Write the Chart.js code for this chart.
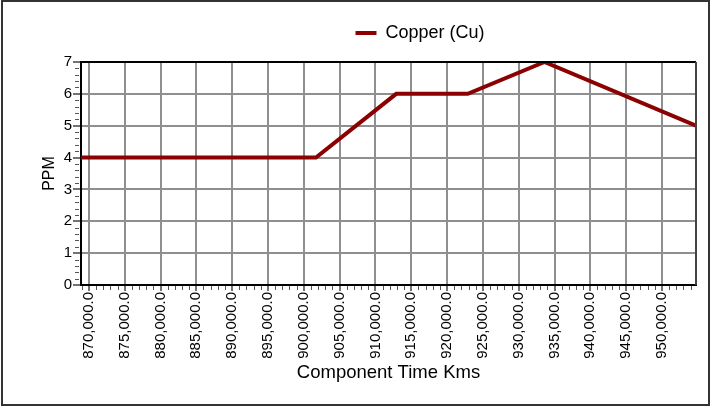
<!DOCTYPE html>
<html>
<head>
<meta charset="utf-8">
<script src="https://cdn.jsdelivr.net/npm/chart.js@4/dist/chart.umd.min.js"></script>
<style>
  html, body { margin: 0; padding: 0; background: #fff; }
  #wrap { width: 711px; height: 408px; }
</style>
</head>
<body>
<div id="wrap"><canvas id="ppmChart" width="711" height="408"></canvas></div>
<script>
// data
const seriesName = 'Copper (Cu)';
const kms = [868900, 901700, 912900, 922900, 933600, 954750];
const ppm = [4, 4, 6, 6, 7, 5];
const xTicks = [870000, 875000, 880000, 885000, 890000, 895000, 900000, 905000, 910000,
                915000, 920000, 925000, 930000, 935000, 940000, 945000, 950000];
const yTicks = [0, 1, 2, 3, 4, 5, 6, 7];

const lineColor = '#8b0000';
const gridColor = '#8f8f8f';
const fontFamily = '"Liberation Sans", Arial, sans-serif';

// legend: fixed block height and nudged right like the original
const legendPlace = {
    id: 'legendPlace',
    beforeLayout(chart) {
        const lg = chart.legend;
        if (lg && !lg._fixed) {
            const fit = lg.fit;
            lg.fit = function() { fit.call(this); this.height = 56; };
            lg._fixed = true;
        }
    },
    afterLayout(chart) {
        const lg = chart.legend;
        if (lg) { lg.left += 52; lg.right += 52; }
    }
};

// frame, top/right plot border and the small minor ticks
const decorations = {
    id: 'decorations',
    afterDraw(chart) {
        const ctx = chart.ctx;
        const area = chart.chartArea;
        const xs = chart.scales.x;
        const ys = chart.scales.y;
        ctx.save();
        ctx.strokeStyle = '#555';
        ctx.lineWidth = 1;
        for (let v = Math.ceil(xs.min / 1000) * 1000; v <= xs.max; v += 1000) {
            if (v % 5000 === 0) continue;
            const px = Math.round(xs.getPixelForValue(v)) + 0.5;
            ctx.beginPath();
            ctx.moveTo(px, area.bottom + 1);
            ctx.lineTo(px, area.bottom + 5);
            ctx.stroke();
        }
        for (let i = 0; i < 35; i++) {
            if (i % 5 === 0) continue;
            const py = Math.round(ys.getPixelForValue(i / 5)) + 0.5;
            ctx.beginPath();
            ctx.moveTo(area.left - 6, py);
            ctx.lineTo(area.left - 2, py);
            ctx.stroke();
        }
        ctx.lineWidth = 2;
        ctx.strokeStyle = '#000';
        ctx.beginPath();
        ctx.moveTo(area.left, area.top);
        ctx.lineTo(area.right, area.top);
        ctx.stroke();
        ctx.strokeStyle = '#444';
        ctx.beginPath();
        ctx.moveTo(area.right, area.top);
        ctx.lineTo(area.right, area.bottom);
        ctx.stroke();
        ctx.strokeStyle = '#333';
        ctx.strokeRect(2, 1, 707, 404);
        ctx.restore();
    }
};

const ctx = document.getElementById('ppmChart').getContext('2d');
const ppmChart = new Chart(ctx, {
    type: 'line',
    data: {
        datasets: [{
            label: seriesName,
            data: kms.map((k, i) => ({ x: k, y: ppm[i] })),
            borderColor: lineColor,
            backgroundColor: lineColor,
            borderWidth: 4,
            pointRadius: 0,
            tension: 0,
            fill: false
        }]
    },
    options: {
        responsive: false,
        animation: false,
        layout: { padding: { top: 6, left: 40, right: 15, bottom: 20 } },
        plugins: {
            tooltip: { enabled: false },
            legend: {
                position: 'top',
                labels: {
                    color: '#000',
                    font: { family: fontFamily, size: 18 },
                    boxWidth: 21,
                    boxHeight: 4,
                    padding: 18,
                    generateLabels(chart) {
                        return Chart.defaults.plugins.legend.labels.generateLabels(chart)
                            .map(l => ({ ...l, lineWidth: 0, fillStyle: lineColor }));
                    }
                }
            }
        },
        scales: {
            x: {
                type: 'linear',
                min: kms[0],
                max: kms[kms.length - 1],
                afterBuildTicks(scale) {
                    scale.ticks = xTicks.map(v => ({ value: v }));
                },
                afterFit(scale) { scale.height = 103; },
                ticks: {
                    color: '#000',
                    font: { family: fontFamily, size: 15 },
                    minRotation: 90,
                    maxRotation: 90,
                    padding: 1,
                    autoSkip: false,
                    callback: v => v.toLocaleString('en-US', { minimumFractionDigits: 1, maximumFractionDigits: 1 })
                },
                grid: { color: gridColor, lineWidth: 2, tickColor: '#444', tickWidth: 1.5, tickLength: 6 },
                border: { color: '#000', width: 2 },
                title: {
                    display: true,
                    text: 'Component Time Kms',
                    color: '#000',
                    font: { family: fontFamily, size: 18.5 },
                    padding: { top: 0, bottom: 4 }
                }
            },
            y: {
                min: 0,
                max: 7,
                afterBuildTicks(scale) {
                    scale.ticks = yTicks.map(v => ({ value: v }));
                },
                afterFit(scale) { scale.width = 41; },
                ticks: {
                    color: '#000',
                    font: { family: fontFamily, size: 15 },
                    padding: 1
                },
                grid: { color: gridColor, lineWidth: 2, tickColor: '#444', tickWidth: 1.5, tickLength: 8 },
                border: { color: '#000', width: 2 },
                title: {
                    display: true,
                    text: 'PPM',
                    color: '#000',
                    font: { family: fontFamily, size: 16 },
                    padding: { top: 0, bottom: 0 }
                }
            }
        }
    },
    plugins: [legendPlace, decorations]
});
</script>
</body>
</html>
